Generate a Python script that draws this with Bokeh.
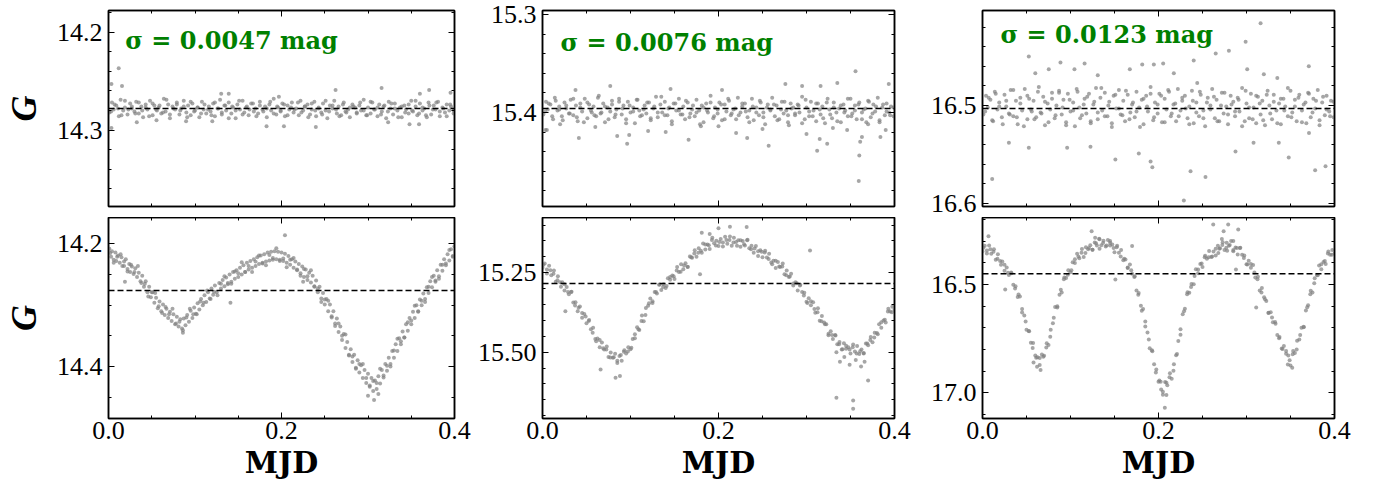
from bokeh.plotting import figure
from bokeh.models import (Range1d, SingleIntervalTicker, LinearAxis, Span, Label,
                          PrintfTickFormatter)
from bokeh.layouts import row, column
from bokeh.embed import file_html
from bokeh.resources import INLINE

# ---------------- data ----------------
# observation times of the top-row (constant) stars, MJD offset
t_top = [
    0.001, 0.004, 0.006, 0.009, 0.012, 0.014, 0.017, 0.019, 0.022, 0.025, 0.027, 0.030, 0.032, 0.035, 0.038, 0.040, 0.043, 0.045, 0.048, 0.051, 0.053, 0.056,
    0.058, 0.061, 0.064, 0.066, 0.069, 0.071, 0.074, 0.077, 0.079, 0.082, 0.084, 0.087, 0.090, 0.092, 0.095, 0.097, 0.100, 0.103, 0.105, 0.108, 0.110, 0.113,
    0.116, 0.118, 0.121, 0.123, 0.126, 0.129, 0.131, 0.134, 0.136, 0.139, 0.142, 0.144, 0.147, 0.149, 0.152, 0.155, 0.157, 0.160, 0.162, 0.165, 0.168, 0.170,
    0.173, 0.175, 0.178, 0.181, 0.183, 0.186, 0.188, 0.191, 0.194, 0.196, 0.199, 0.201, 0.204, 0.207, 0.209, 0.212, 0.214, 0.217, 0.220, 0.222, 0.225, 0.227,
    0.230, 0.233, 0.235, 0.238, 0.240, 0.243, 0.246, 0.248, 0.251, 0.253, 0.256, 0.259, 0.261, 0.264, 0.266, 0.269, 0.272, 0.274, 0.277, 0.279, 0.282, 0.285,
    0.287, 0.290, 0.292, 0.295, 0.298, 0.300, 0.303, 0.305, 0.308, 0.311, 0.313, 0.316, 0.318, 0.321, 0.324, 0.326, 0.329, 0.331, 0.334, 0.337, 0.339, 0.342,
    0.344, 0.347, 0.350, 0.352, 0.355, 0.357, 0.360, 0.363, 0.365, 0.368, 0.370, 0.373, 0.376, 0.378, 0.381, 0.383, 0.386, 0.389, 0.391, 0.394, 0.396, 0.399,
]
t_top2 = [
    0.003, 0.007, 0.011, 0.015, 0.019, 0.023, 0.027, 0.031, 0.035, 0.039,
    0.043, 0.047, 0.051, 0.055, 0.059, 0.063, 0.067, 0.071, 0.075, 0.079,
    0.083, 0.087, 0.091, 0.095, 0.099, 0.103, 0.107, 0.111, 0.115, 0.119,
    0.123, 0.127, 0.131, 0.135, 0.139, 0.143, 0.147, 0.151, 0.155, 0.159,
    0.163, 0.167, 0.171, 0.175, 0.179, 0.183, 0.187, 0.191, 0.195, 0.199,
    0.203, 0.207, 0.211, 0.215, 0.219, 0.223, 0.227, 0.231, 0.235, 0.239,
    0.243, 0.247, 0.251, 0.255, 0.259, 0.263, 0.267, 0.271, 0.275, 0.279,
    0.283, 0.287, 0.291, 0.295, 0.299, 0.303, 0.307, 0.311, 0.315, 0.319,
    0.323, 0.327, 0.331, 0.335, 0.339, 0.343, 0.347, 0.351, 0.355, 0.359,
    0.363, 0.367, 0.371, 0.375, 0.379, 0.383, 0.387, 0.391, 0.395, 0.399,
]

g_const1 = [
    14.282, 14.272, 14.279, 14.275, 14.286, 14.269, 14.280, 14.277, 14.284, 14.273, 14.278, 14.281, 14.271, 14.283, 14.276, 14.287, 14.274, 14.279, 14.270, 14.285, 14.275, 14.280,
    14.277, 14.283, 14.268, 14.281, 14.274, 14.288, 14.276, 14.279, 14.272, 14.284, 14.278, 14.270, 14.282, 14.275, 14.285, 14.273, 14.280, 14.277, 14.287, 14.271, 14.279, 14.283,
    14.276, 14.281, 14.273, 14.286, 14.278, 14.269, 14.284, 14.275, 14.280, 14.272, 14.283, 14.277, 14.288, 14.274, 14.279, 14.270, 14.282, 14.276, 14.285, 14.273, 14.281, 14.278,
    14.283, 14.271, 14.279, 14.276, 14.287, 14.274, 14.280, 14.268, 14.284, 14.277, 14.281, 14.273, 14.286, 14.275, 14.279, 14.272, 14.282, 14.278, 14.285, 14.270, 14.280, 14.276,
    14.274, 14.284, 14.279, 14.271, 14.286, 14.277, 14.282, 14.273, 14.280, 14.288, 14.275, 14.278, 14.270, 14.283, 14.276, 14.285, 14.272, 14.281, 14.279, 14.287, 14.274, 14.277,
    14.282, 14.275, 14.280, 14.269, 14.285, 14.277, 14.283, 14.272, 14.279, 14.286, 14.274, 14.281, 14.276, 14.288, 14.271, 14.278, 14.284, 14.273, 14.280, 14.277, 14.287, 14.275,
    14.279, 14.283, 14.270, 14.281, 14.276, 14.285, 14.273, 14.280, 14.278, 14.287, 14.272, 14.284, 14.275, 14.279, 14.271, 14.286, 14.277, 14.282, 14.274, 14.280, 14.276, 14.283,
]
g_const1b = [
    14.281, 14.274, 14.278, 14.285, 14.270, 14.279, 14.276, 14.283, 14.272, 14.280,
    14.277, 14.286, 14.273, 14.279, 14.275, 14.282, 14.269, 14.284, 14.278, 14.274,
    14.280, 14.276, 14.287, 14.271, 14.281, 14.277, 14.283, 14.274, 14.279, 14.285,
    14.272, 14.278, 14.282, 14.275, 14.288, 14.276, 14.280, 14.270, 14.284, 14.277,
    14.279, 14.273, 14.286, 14.275, 14.281, 14.278, 14.271, 14.283, 14.276, 14.280,
    14.274, 14.285, 14.277, 14.279, 14.272, 14.282, 14.276, 14.287, 14.273, 14.280,
    14.278, 14.284, 14.270, 14.281, 14.275, 14.279, 14.286, 14.274, 14.282, 14.277,
    14.276, 14.283, 14.272, 14.280, 14.285, 14.271, 14.279, 14.277, 14.284, 14.275,
    14.281, 14.273, 14.278, 14.287, 14.276, 14.282, 14.274, 14.280, 14.270, 14.283,
    14.277, 14.285, 14.275, 14.279, 14.272, 14.281, 14.278, 14.286, 14.274, 14.280,
]
t_const1_out = [0.0118, 0.0034, 0.0156, 0.0034, 0.0327, 0.1303, 0.139, 0.1827, 0.197, 0.2028, 0.2397,
                0.2625, 0.3157, 0.3233, 0.348, 0.359, 0.3707, 0.3954, 0.36, 0.0555, 0.0897, 0.120]
g_const1_out = [14.237, 14.253, 14.255, 14.298, 14.292, 14.263, 14.263, 14.296, 14.266, 14.296, 14.297,
                14.259, 14.257, 14.292, 14.294, 14.294, 14.259, 14.262, 14.263, 14.290, 14.291, 14.291]

g_const2 = [
    15.402, 15.389, 15.397, 15.392, 15.407, 15.385, 15.398, 15.394, 15.404, 15.390, 15.396, 15.401, 15.387, 15.403, 15.393, 15.409, 15.391, 15.399, 15.386, 15.406, 15.392, 15.400,
    15.394, 15.404, 15.383, 15.401, 15.391, 15.410, 15.395, 15.399, 15.388, 15.405, 15.397, 15.386, 15.402, 15.393, 15.407, 15.389, 15.400, 15.395, 15.411, 15.387, 15.398, 15.403,
    15.393, 15.401, 15.390, 15.408, 15.396, 15.384, 15.405, 15.392, 15.400, 15.389, 15.403, 15.395, 15.412, 15.391, 15.398, 15.386, 15.402, 15.394, 15.407, 15.390, 15.401, 15.397,
    15.404, 15.387, 15.398, 15.393, 15.410, 15.391, 15.400, 15.383, 15.406, 15.395, 15.401, 15.390, 15.408, 15.392, 15.399, 15.388, 15.403, 15.397, 15.407, 15.385, 15.400, 15.394,
    15.391, 15.405, 15.398, 15.386, 15.408, 15.395, 15.403, 15.390, 15.400, 15.412, 15.392, 15.397, 15.385, 15.404, 15.393, 15.407, 15.389, 15.401, 15.398, 15.410, 15.391, 15.395,
    15.403, 15.392, 15.400, 15.384, 15.407, 15.395, 15.404, 15.389, 15.398, 15.409, 15.391, 15.402, 15.394, 15.411, 15.386, 15.397, 15.406, 15.390, 15.400, 15.396, 15.410, 15.392,
    15.398, 15.404, 15.386, 15.401, 15.393, 15.407, 15.390, 15.400, 15.397, 15.410, 15.388, 15.405, 15.392, 15.399, 15.385, 15.408, 15.395, 15.403, 15.391, 15.400, 15.394, 15.404,
]
g_const2b = [
    15.399, 15.391, 15.404, 15.388, 15.397, 15.408, 15.393, 15.401, 15.386, 15.405,
    15.395, 15.410, 15.390, 15.398, 15.403, 15.385, 15.400, 15.394, 15.407, 15.392,
    15.402, 15.389, 15.396, 15.411, 15.393, 15.399, 15.387, 15.404, 15.397, 15.390,
    15.406, 15.394, 15.400, 15.384, 15.403, 15.396, 15.409, 15.391, 15.398, 15.402,
    15.388, 15.405, 15.393, 15.400, 15.412, 15.395, 15.398, 15.390, 15.404, 15.397,
    15.392, 15.407, 15.386, 15.401, 15.396, 15.403, 15.391, 15.399, 15.410, 15.394,
    15.400, 15.388, 15.405, 15.395, 15.398, 15.392, 15.408, 15.397, 15.389, 15.403,
    15.396, 15.401, 15.393, 15.411, 15.387, 15.399, 15.404, 15.391, 15.397, 15.406,
    15.390, 15.402, 15.395, 15.409, 15.393, 15.400, 15.386, 15.404, 15.398, 15.392,
    15.407, 15.396, 15.389, 15.401, 15.394, 15.410, 15.392, 15.399, 15.403, 15.395,
]
t_const2_out = [0.3557, 0.3594, 0.360, 0.361, 0.363, 0.3121, 0.315, 0.3235, 0.0962, 0.0849, 0.0985,
                0.0413, 0.166, 0.257, 0.2326, 0.3462, 0.384, 0.077, 0.0375, 0.1455, 0.204, 0.276,
                0.295, 0.335, 0.3935, 0.316, 0.0034, 0.005, 0.39,
                0.060, 0.120, 0.180, 0.220, 0.250, 0.280, 0.300, 0.330, 0.370, 0.140, 0.200, 0.020]
g_const2_out = [15.358, 15.470, 15.444, 15.430, 15.425, 15.439, 15.427, 15.432, 15.432, 15.424, 15.423,
                15.426, 15.428, 15.434, 15.426, 15.418, 15.425, 15.373, 15.377, 15.376, 15.377, 15.371,
                15.373, 15.370, 15.371, 15.373, 15.418, 15.418, 15.418,
                15.415, 15.419, 15.414, 15.421, 15.417, 15.413, 15.422, 15.416, 15.412, 15.420, 15.414, 15.412]

g_const3 = [
    16.509, 16.490, 16.502, 16.494, 16.516, 16.486, 16.504, 16.497, 16.512, 16.489, 16.501, 16.508, 16.484, 16.511, 16.495, 16.519, 16.492, 16.505, 16.483, 16.514, 16.493, 16.506,
    16.495, 16.512, 16.481, 16.507, 16.491, 16.520, 16.498, 16.504, 16.487, 16.513, 16.500, 16.485, 16.509, 16.494, 16.517, 16.488, 16.506, 16.497, 16.521, 16.486, 16.502, 16.510,
    16.493, 16.508, 16.488, 16.518, 16.499, 16.482, 16.514, 16.492, 16.505, 16.487, 16.511, 16.496, 16.522, 16.490, 16.503, 16.484, 16.509, 16.495, 16.516, 16.489, 16.507, 16.499,
    16.512, 16.486, 16.502, 16.494, 16.519, 16.490, 16.506, 16.481, 16.515, 16.497, 16.508, 16.488, 16.517, 16.493, 16.504, 16.486, 16.511, 16.499, 16.516, 16.483, 16.505, 16.495,
    16.490, 16.513, 16.501, 16.485, 16.518, 16.497, 16.511, 16.489, 16.505, 16.521, 16.492, 16.500, 16.483, 16.513, 16.494, 16.516, 16.487, 16.508, 16.501, 16.519, 16.490, 16.496,
    16.511, 16.492, 16.506, 16.482, 16.516, 16.498, 16.513, 16.488, 16.502, 16.518, 16.491, 16.509, 16.495, 16.520, 16.485, 16.500, 16.514, 16.489, 16.505, 16.498, 16.519, 16.493,
    16.501, 16.511, 16.485, 16.507, 16.494, 16.516, 16.489, 16.505, 16.499, 16.518, 16.487, 16.512, 16.493, 16.503, 16.484, 16.515, 16.497, 16.510, 16.490, 16.506, 16.495, 16.512,
]
g_const3b = [
    16.506, 16.492, 16.515, 16.488, 16.501, 16.519, 16.495, 16.509, 16.484, 16.512,
    16.498, 16.521, 16.490, 16.504, 16.514, 16.486, 16.508, 16.496, 16.517, 16.493,
    16.510, 16.487, 16.502, 16.520, 16.494, 16.505, 16.483, 16.513, 16.499, 16.491,
    16.516, 16.496, 16.507, 16.482, 16.511, 16.500, 16.518, 16.489, 16.503, 16.510,
    16.485, 16.514, 16.497, 16.506, 16.522, 16.493, 16.501, 16.488, 16.512, 16.499,
    16.490, 16.517, 16.484, 16.508, 16.498, 16.511, 16.492, 16.503, 16.519, 16.495,
    16.507, 16.486, 16.513, 16.497, 16.504, 16.491, 16.516, 16.500, 16.487, 16.509,
    16.499, 16.506, 16.494, 16.521, 16.485, 16.502, 16.514, 16.490, 16.498, 16.515,
    16.489, 16.508, 16.496, 16.518, 16.493, 16.505, 16.482, 16.512, 16.501, 16.492,
    16.517, 16.497, 16.488, 16.507, 16.495, 16.520, 16.491, 16.504, 16.511, 16.496,
]
t_const3_out = [0.316, 0.299, 0.280, 0.265, 0.0526, 0.011, 0.2288, 0.2534, 0.151, 0.193, 0.191,
                0.2364, 0.378, 0.3898, 0.348, 0.030, 0.0526, 0.0962, 0.1227, 0.1776, 0.2875, 0.3367,
                0.060, 0.0753, 0.0886, 0.1045, 0.116, 0.131, 0.1674, 0.1815, 0.1947, 0.2053, 0.2174,
                0.240, 0.244, 0.3008, 0.3197, 0.335, 0.3708, 0.308, 0.371]
g_const3_out = [16.416, 16.435, 16.444, 16.447, 16.450, 16.575, 16.597, 16.573, 16.555, 16.563, 16.557,
                16.567, 16.566, 16.562, 16.553, 16.538, 16.543, 16.543, 16.542, 16.549, 16.547, 16.538,
                16.467, 16.463, 16.456, 16.463, 16.457, 16.469, 16.463, 16.458, 16.458, 16.457, 16.467,
                16.454, 16.477, 16.463, 16.468, 16.472, 16.460, 16.538, 16.528]

# bottom-left variable star
t_var1 = [
    0.001, 0.003, 0.004, 0.006, 0.008, 0.009, 0.011, 0.013, 0.015, 0.016,
    0.018, 0.020, 0.022, 0.024, 0.025, 0.027, 0.029, 0.031, 0.033, 0.035,
    0.037, 0.039, 0.041, 0.043, 0.045, 0.047, 0.049, 0.051, 0.053, 0.055,
    0.057, 0.059, 0.061, 0.063, 0.065, 0.067, 0.069, 0.071, 0.073, 0.075,
    0.077, 0.079, 0.081, 0.083, 0.085, 0.087, 0.089, 0.091, 0.093, 0.095,
    0.097, 0.099, 0.101, 0.103, 0.105, 0.107, 0.109, 0.111, 0.113, 0.115,
    0.117, 0.119, 0.121, 0.123, 0.125, 0.128, 0.130, 0.132, 0.134, 0.136,
    0.138, 0.140, 0.142, 0.144, 0.146, 0.148, 0.150, 0.152, 0.154, 0.156,
    0.158, 0.160, 0.162, 0.164, 0.166, 0.168, 0.170, 0.172, 0.174, 0.176,
    0.178, 0.180, 0.182, 0.184, 0.186, 0.188, 0.190, 0.192, 0.194, 0.196,
    0.198, 0.200, 0.202, 0.204, 0.206, 0.208, 0.210, 0.212, 0.214, 0.216,
    0.218, 0.220, 0.222, 0.224, 0.226, 0.228, 0.230, 0.232, 0.234, 0.236,
    0.238, 0.240, 0.242, 0.244, 0.246, 0.248, 0.250, 0.252, 0.254, 0.256,
    0.258, 0.260, 0.262, 0.264, 0.266, 0.268, 0.270, 0.272, 0.274, 0.276,
    0.278, 0.280, 0.282, 0.284, 0.286, 0.288, 0.290, 0.292, 0.294, 0.296,
    0.298, 0.300, 0.302, 0.304, 0.306, 0.308, 0.310, 0.312, 0.314, 0.316,
    0.318, 0.320, 0.322, 0.324, 0.326, 0.328, 0.330, 0.332, 0.334, 0.336,
    0.338, 0.340, 0.342, 0.344, 0.346, 0.348, 0.350, 0.352, 0.354, 0.356,
    0.358, 0.360, 0.362, 0.364, 0.366, 0.368, 0.370, 0.372, 0.374, 0.376,
    0.378, 0.380, 0.382, 0.384, 0.386, 0.388, 0.390, 0.392, 0.394, 0.396,
    0.398, 0.400, 0.204, 0.019, 0.141, 0.307, 0.300, 0.086, 0.312, 0.225,
]
g_var1 = [
    14.208, 14.221, 14.212, 14.226, 14.214, 14.228, 14.219, 14.231, 14.222, 14.236,
    14.229, 14.225, 14.241, 14.233, 14.246, 14.237, 14.249, 14.240, 14.254, 14.247,
    14.261, 14.252, 14.270, 14.261, 14.279, 14.270, 14.287, 14.279, 14.296, 14.288,
    14.305, 14.294, 14.310, 14.299, 14.316, 14.306, 14.321, 14.311, 14.326, 14.315,
    14.331, 14.319, 14.335, 14.323, 14.338, 14.322, 14.333, 14.316, 14.327, 14.309,
    14.321, 14.304, 14.314, 14.297, 14.307, 14.290, 14.300, 14.284, 14.295, 14.279,
    14.289, 14.273, 14.283, 14.268, 14.279, 14.264, 14.273, 14.259, 14.269, 14.255,
    14.266, 14.250, 14.262, 14.246, 14.257, 14.243, 14.254, 14.239, 14.250, 14.235,
    14.246, 14.231, 14.242, 14.228, 14.239, 14.225, 14.236, 14.222, 14.233, 14.219,
    14.231, 14.217, 14.229, 14.214, 14.227, 14.213, 14.226, 14.212, 14.225, 14.213,
    14.226, 14.214, 14.228, 14.216, 14.231, 14.220, 14.234, 14.225, 14.239, 14.229,
    14.243, 14.233, 14.248, 14.237, 14.254, 14.242, 14.259, 14.247, 14.263, 14.252,
    14.269, 14.260, 14.279, 14.270, 14.289, 14.280, 14.299, 14.290, 14.310, 14.299,
    14.320, 14.310, 14.330, 14.322, 14.344, 14.335, 14.357, 14.347, 14.370, 14.360,
    14.382, 14.372, 14.393, 14.381, 14.402, 14.390, 14.410, 14.398, 14.419, 14.406,
    14.427, 14.412, 14.433, 14.419, 14.440, 14.423, 14.437, 14.416, 14.428, 14.406,
    14.418, 14.396, 14.407, 14.386, 14.396, 14.375, 14.386, 14.364, 14.375, 14.354,
    14.364, 14.343, 14.353, 14.331, 14.342, 14.321, 14.331, 14.311, 14.321, 14.300,
    14.311, 14.291, 14.300, 14.281, 14.290, 14.271, 14.280, 14.261, 14.271, 14.252,
    14.262, 14.243, 14.253, 14.234, 14.244, 14.225, 14.235, 14.217, 14.227, 14.209,
    14.220, 14.204, 14.186, 14.262, 14.296, 14.455, 14.448, 14.345, 14.445, 14.262,
]
t_var1b = [
    0.002, 0.006, 0.010, 0.014, 0.018, 0.022, 0.026, 0.030, 0.034, 0.038,
    0.042, 0.046, 0.050, 0.054, 0.058, 0.062, 0.066, 0.070, 0.074, 0.078,
    0.082, 0.086, 0.090, 0.094, 0.098, 0.102, 0.106, 0.110, 0.114, 0.118,
    0.122, 0.126, 0.130, 0.134, 0.138, 0.142, 0.146, 0.150, 0.154, 0.158,
    0.162, 0.166, 0.170, 0.174, 0.178, 0.182, 0.186, 0.190, 0.194, 0.198,
    0.202, 0.206, 0.210, 0.214, 0.218, 0.222, 0.226, 0.230, 0.234, 0.238,
    0.242, 0.246, 0.250, 0.254, 0.258, 0.262, 0.266, 0.270, 0.274, 0.278,
    0.282, 0.286, 0.290, 0.294, 0.298, 0.302, 0.306, 0.310, 0.314, 0.318,
    0.322, 0.326, 0.330, 0.334, 0.338, 0.342, 0.346, 0.350, 0.354, 0.358,
    0.362, 0.366, 0.370, 0.374, 0.378, 0.382, 0.386, 0.390, 0.394, 0.398,
]
g_var1b = [
    14.215, 14.231, 14.221, 14.217, 14.236, 14.245, 14.234, 14.246, 14.236, 14.264,
    14.265, 14.286, 14.279, 14.280, 14.302, 14.313, 14.303, 14.315, 14.306, 14.330,
    14.327, 14.341, 14.320, 14.306, 14.315, 14.315, 14.294, 14.296, 14.276, 14.290,
    14.278, 14.284, 14.265, 14.253, 14.264, 14.265, 14.245, 14.248, 14.230, 14.246,
    14.236, 14.246, 14.229, 14.219, 14.232, 14.235, 14.218, 14.223, 14.207, 14.228,
    14.224, 14.238, 14.226, 14.223, 14.242, 14.252, 14.241, 14.253, 14.243, 14.270,
    14.273, 14.295, 14.291, 14.293, 14.318, 14.334, 14.330, 14.350, 14.348, 14.381,
    14.384, 14.404, 14.396, 14.396, 14.419, 14.431, 14.424, 14.427, 14.404, 14.415,
    14.399, 14.400, 14.374, 14.355, 14.359, 14.353, 14.328, 14.325, 14.301, 14.310,
    14.293, 14.295, 14.270, 14.254, 14.260, 14.257, 14.234, 14.232, 14.210, 14.221,
]

# observation times of the middle and right variable stars
t_var23 = [
    0.0, 0.0025, 0.005, 0.0075, 0.01, 0.0125, 0.015, 0.0175, 0.02, 0.0225,
    0.025, 0.0275, 0.03, 0.0325, 0.035, 0.0375, 0.04, 0.0425, 0.045, 0.0475,
    0.05, 0.0525, 0.055, 0.0575, 0.06, 0.0625, 0.065, 0.0675, 0.07, 0.0725,
    0.075, 0.0775, 0.08, 0.0825, 0.085, 0.0875, 0.09, 0.0925, 0.095, 0.0975,
    0.1, 0.1025, 0.105, 0.1075, 0.11, 0.1125, 0.115, 0.1175, 0.12, 0.1225,
    0.125, 0.1275, 0.13, 0.1325, 0.135, 0.1375, 0.14, 0.1425, 0.145, 0.1475,
    0.15, 0.1525, 0.155, 0.1575, 0.16, 0.1625, 0.165, 0.1675, 0.17, 0.1725,
    0.175, 0.1775, 0.18, 0.1825, 0.185, 0.1875, 0.19, 0.1925, 0.195, 0.1975,
    0.2, 0.2025, 0.205, 0.2075, 0.21, 0.2125, 0.215, 0.2175, 0.22, 0.2225,
    0.225, 0.2275, 0.23, 0.2325, 0.235, 0.2375, 0.24, 0.2425, 0.245, 0.2475,
    0.25, 0.2525, 0.255, 0.2575, 0.26, 0.2625, 0.265, 0.2675, 0.27, 0.2725,
    0.275, 0.2775, 0.28, 0.2825, 0.285, 0.2875, 0.29, 0.2925, 0.295, 0.2975,
    0.3, 0.3025, 0.305, 0.3075, 0.31, 0.3125, 0.315, 0.3175, 0.32, 0.3225,
    0.325, 0.3275, 0.33, 0.3325, 0.335, 0.3375, 0.34, 0.3425, 0.345, 0.3475,
    0.35, 0.3525, 0.355, 0.3575, 0.36, 0.3625, 0.365, 0.3675, 0.37, 0.3725,
    0.375, 0.3775, 0.38, 0.3825, 0.385, 0.3875, 0.39, 0.3925, 0.395, 0.3975,
    0.4,
]
t_var23b = [
    0.001, 0.005, 0.009, 0.013, 0.017, 0.021, 0.025, 0.029, 0.033, 0.037,
    0.041, 0.045, 0.049, 0.053, 0.057, 0.061, 0.065, 0.069, 0.073, 0.077,
    0.081, 0.085, 0.089, 0.093, 0.097, 0.101, 0.105, 0.109, 0.113, 0.117,
    0.121, 0.125, 0.129, 0.133, 0.137, 0.141, 0.145, 0.149, 0.153, 0.157,
    0.161, 0.165, 0.169, 0.173, 0.177, 0.181, 0.185, 0.189, 0.193, 0.197,
    0.201, 0.205, 0.209, 0.213, 0.217, 0.221, 0.225, 0.229, 0.233, 0.237,
    0.241, 0.245, 0.249, 0.253, 0.257, 0.261, 0.265, 0.269, 0.273, 0.277,
    0.281, 0.285, 0.289, 0.293, 0.297, 0.301, 0.305, 0.309, 0.313, 0.317,
    0.321, 0.325, 0.329, 0.333, 0.337, 0.341, 0.345, 0.349, 0.353, 0.357,
    0.361, 0.365, 0.369, 0.373, 0.377, 0.381, 0.385, 0.389, 0.393, 0.397,
]
g_var2 = [
    15.234, 15.221, 15.240, 15.228, 15.258, 15.253, 15.278, 15.261, 15.280, 15.280,
    15.306, 15.295, 15.318, 15.311, 15.344, 15.343, 15.371, 15.356, 15.377, 15.380,
    15.409, 15.402, 15.428, 15.423, 15.459, 15.457, 15.485, 15.470, 15.492, 15.492,
    15.515, 15.501, 15.518, 15.505, 15.527, 15.512, 15.527, 15.499, 15.504, 15.485,
    15.491, 15.459, 15.456, 15.422, 15.430, 15.402, 15.403, 15.361, 15.354, 15.331,
    15.340, 15.311, 15.315, 15.288, 15.304, 15.286, 15.298, 15.267, 15.272, 15.259,
    15.270, 15.243, 15.248, 15.223, 15.239, 15.220, 15.231, 15.199, 15.203, 15.189,
    15.200, 15.173, 15.181, 15.158, 15.177, 15.161, 15.175, 15.147, 15.157, 15.149,
    15.166, 15.144, 15.155, 15.137, 15.159, 15.147, 15.165, 15.140, 15.153, 15.148,
    15.168, 15.150, 15.164, 15.148, 15.173, 15.165, 15.187, 15.166, 15.182, 15.179,
    15.201, 15.186, 15.202, 15.190, 15.218, 15.212, 15.235, 15.216, 15.232, 15.230,
    15.255, 15.243, 15.263, 15.253, 15.284, 15.280, 15.306, 15.290, 15.311, 15.313,
    15.341, 15.330, 15.352, 15.343, 15.376, 15.374, 15.401, 15.386, 15.407, 15.412,
    15.442, 15.434, 15.459, 15.446, 15.475, 15.468, 15.492, 15.472, 15.489, 15.485,
    15.504, 15.485, 15.498, 15.481, 15.506, 15.492, 15.504, 15.473, 15.478, 15.462,
    15.469, 15.439, 15.440, 15.412, 15.423, 15.400, 15.407, 15.372, 15.372, 15.357,
    15.367,
]
g_var2b = [
    15.225, 15.252, 15.242, 15.243, 15.274, 15.294, 15.286, 15.311, 15.310, 15.353,
    15.360, 15.392, 15.388, 15.399, 15.439, 15.466, 15.462, 15.488, 15.482, 15.517,
    15.516, 15.534, 15.509, 15.494, 15.498, 15.486, 15.444, 15.428, 15.385, 15.383,
    15.346, 15.345, 15.311, 15.287, 15.295, 15.292, 15.263, 15.261, 15.232, 15.247,
    15.227, 15.232, 15.201, 15.179, 15.187, 15.187, 15.161, 15.163, 15.140, 15.164,
    15.153, 15.167, 15.147, 15.136, 15.155, 15.165, 15.148, 15.160, 15.146, 15.176,
    15.174, 15.197, 15.184, 15.181, 15.207, 15.223, 15.212, 15.230, 15.221, 15.258,
    15.262, 15.290, 15.283, 15.288, 15.322, 15.345, 15.340, 15.364, 15.362, 15.403,
    15.412, 15.447, 15.446, 15.448, 15.475, 15.491, 15.480, 15.492, 15.476, 15.504,
    15.497, 15.503, 15.473, 15.452, 15.454, 15.444, 15.406, 15.398, 15.363, 15.374,
]
t_var2_out = [0.334, 0.353, 0.353, 0.370, 0.304, 0.083, 0.088, 0.066, 0.026, 0.179,
              0.338, 0.343, 0.349, 0.356, 0.362, 0.366, 0.334, 0.200, 0.213, 0.232, 0.181, 0.190]
g_var2_out = [15.644, 15.652, 15.678, 15.589, 15.180, 15.581, 15.575, 15.555, 15.371, 15.255,
              15.530, 15.515, 15.540, 15.525, 15.545, 15.530, 15.500, 15.110, 15.105, 15.106, 15.124, 15.128]

g_var3 = [
    16.348, 16.322, 16.343, 16.320, 16.358, 16.349, 16.386, 16.361, 16.392, 16.394,
    16.437, 16.422, 16.456, 16.445, 16.501, 16.508, 16.558, 16.556, 16.614, 16.644,
    16.709, 16.715, 16.769, 16.770, 16.828, 16.836, 16.872, 16.824, 16.829, 16.791,
    16.780, 16.709, 16.679, 16.604, 16.601, 16.548, 16.537, 16.476, 16.470, 16.435,
    16.444, 16.398, 16.401, 16.358, 16.379, 16.354, 16.373, 16.328, 16.338, 16.319,
    16.340, 16.306, 16.320, 16.289, 16.319, 16.298, 16.325, 16.295, 16.320, 16.316,
    16.351, 16.328, 16.354, 16.341, 16.388, 16.385, 16.424, 16.408, 16.451, 16.466,
    16.528, 16.539, 16.598, 16.614, 16.694, 16.722, 16.795, 16.804, 16.868, 16.893,
    16.949, 16.949, 16.996, 16.950, 16.965, 16.929, 16.935, 16.868, 16.827, 16.761,
    16.732, 16.638, 16.612, 16.545, 16.538, 16.498, 16.499, 16.430, 16.431, 16.406,
    16.419, 16.375, 16.381, 16.346, 16.373, 16.348, 16.367, 16.322, 16.333, 16.318,
    16.341, 16.307, 16.321, 16.300, 16.341, 16.330, 16.362, 16.332, 16.363, 16.366,
    16.407, 16.391, 16.423, 16.410, 16.468, 16.476, 16.528, 16.516, 16.559, 16.576,
    16.631, 16.629, 16.675, 16.674, 16.734, 16.743, 16.796, 16.784, 16.820, 16.828,
    16.874, 16.822, 16.817, 16.760, 16.754, 16.700, 16.698, 16.620, 16.596, 16.545,
    16.537, 16.471, 16.457, 16.413, 16.430, 16.397, 16.406, 16.357, 16.363, 16.341,
    16.358,
]
g_var3b = [
    16.331, 16.357, 16.338, 16.338, 16.381, 16.409, 16.409, 16.446, 16.448, 16.519,
    16.546, 16.630, 16.671, 16.716, 16.793, 16.839, 16.840, 16.834, 16.771, 16.742,
    16.654, 16.607, 16.524, 16.468, 16.455, 16.434, 16.384, 16.371, 16.336, 16.355,
    16.332, 16.340, 16.310, 16.291, 16.309, 16.320, 16.308, 16.332, 16.321, 16.371,
    16.381, 16.422, 16.434, 16.462, 16.548, 16.622, 16.671, 16.754, 16.808, 16.907,
    16.943, 17.009, 16.954, 16.910, 16.899, 16.821, 16.707, 16.624, 16.536, 16.512,
    16.461, 16.448, 16.403, 16.368, 16.375, 16.371, 16.335, 16.335, 16.305, 16.331,
    16.318, 16.347, 16.332, 16.331, 16.378, 16.408, 16.406, 16.445, 16.464, 16.537,
    16.568, 16.632, 16.653, 16.682, 16.748, 16.798, 16.807, 16.850, 16.807, 16.800,
    16.733, 16.695, 16.605, 16.529, 16.495, 16.458, 16.407, 16.392, 16.348, 16.363,
]
t_var3_out = [0.2622, 0.2792, 0.2906, 0.274, 0.2072, 0.311, 0.288, 0.124, 0.0068, 0.151,
              0.170, 0.0258, 0.128, 0.133, 0.145, 0.272, 0.278, 0.285, 0.268,
              0.062, 0.066, 0.058, 0.203, 0.209, 0.347, 0.352]
g_var3_out = [16.223, 16.223, 16.246, 16.254, 17.069, 16.607, 16.431, 16.254, 16.277, 16.477,
              16.323, 16.523, 16.285, 16.335, 16.300, 16.290, 16.345, 16.300, 16.355,
              16.880, 16.895, 16.860, 16.985, 17.010, 16.870, 16.885]

mean_mag = [14.278, 15.396, 16.503, 14.276, 15.284, 16.451]
sigma_text = ["σ = 0.0047 mag", "σ = 0.0076 mag", "σ = 0.0123 mag"]
y_limits = [(14.178, 14.378), (15.296, 15.496), (16.403, 16.603),
            (14.157, 14.485), (15.076, 15.709), (16.191, 17.119)]
y_major = [0.1, 0.1, 0.1, 0.2, 0.25, 0.5]
y_minor_n = [5, 5, 5, 4, 5, 5]
y_fmt = ["%.1f", "%.1f", "%.1f", "%.1f", "%.2f", "%.1f"]
x_label_text = "MJD"
y_label_text = "G"

# ---------------- styling ----------------
TICK_FONT = "Liberation Serif"
TICK_SIZE = "26px"
DOT_COLOR = "#808080"
SIGMA_COLOR = "#008000"

col_width = [471, 444, 463]
col_left = [103, 71, 67]
col_right = [17, 21, 44]
sigma_pos = [(0.0194, 14.209), (0.0205, 15.3287), (0.0205, 16.4277)]


def style_axis(ax, ticker, fmt, show_labels, standoff=6):
    ax.ticker = ticker
    ax.formatter = PrintfTickFormatter(format=fmt)
    ax.major_tick_in = 6
    ax.major_tick_out = 0
    ax.minor_tick_in = 3
    ax.minor_tick_out = 0
    ax.major_tick_line_color = "black"
    ax.minor_tick_line_color = "black"
    ax.major_tick_line_width = 1
    ax.minor_tick_line_width = 1
    ax.axis_line_color = "black"
    ax.axis_line_width = 1.5
    if show_labels:
        ax.major_label_text_font = TICK_FONT
        ax.major_label_text_font_size = TICK_SIZE
        ax.major_label_text_color = "black"
        ax.major_label_standoff = standoff
    else:
        ax.major_label_text_color = None
        ax.major_label_text_font_size = "1px"
        ax.major_label_standoff = 0


def make_panel(i, xs, ys):
    r, c = divmod(i, 3)
    lo, hi = y_limits[i]
    if r == 0:
        h, tb, bb = 217, 10, 11
    else:
        h, tb, bb = 272, 0, 71
    p = figure(width=col_width[c], height=h, output_backend="svg", toolbar_location=None,
               x_range=Range1d(0.0, 0.4), y_range=Range1d(hi, lo),
               min_border_left=col_left[c], min_border_right=col_right[c],
               min_border_top=tb, min_border_bottom=bb,
               background_fill_color="white", border_fill_color="white")
    p.outline_line_color = "black"
    p.outline_line_width = 1.5
    p.xgrid.visible = False
    p.ygrid.visible = False

    x_below = p.xaxis[0]
    y_left = p.yaxis[0]

    xt = SingleIntervalTicker(interval=0.2, num_minor_ticks=4)
    yt = SingleIntervalTicker(interval=y_major[i], num_minor_ticks=y_minor_n[i])

    style_axis(x_below, xt, "%.1f", r == 1, standoff=3)
    style_axis(y_left, yt, y_fmt[i], True)
    top_ax = LinearAxis()
    style_axis(top_ax, xt, "%.1f", False)
    right_ax = LinearAxis()
    style_axis(right_ax, yt, y_fmt[i], False)
    p.add_layout(top_ax, "above")
    p.add_layout(right_ax, "right")

    if r == 1:
        x_below.axis_label = x_label_text
        x_below.axis_label_text_font = "DejaVu Serif"
        x_below.axis_label_text_font_style = "bold"
        x_below.axis_label_text_font_size = "30px"
        x_below.axis_label_text_color = "black"
        x_below.axis_label_standoff = 3
    if c == 0:
        y_left.axis_label = y_label_text
        y_left.axis_label_text_font = "Liberation Serif"
        y_left.axis_label_text_font_style = "bold italic"
        y_left.axis_label_text_font_size = "36px"
        y_left.axis_label_text_color = "black"
        y_left.axis_label_standoff = 10

    p.scatter(xs, ys, size=4, fill_color=DOT_COLOR, fill_alpha=0.7, line_color=None)
    p.add_layout(Span(location=mean_mag[i], dimension="width", line_color="black",
                      line_dash="6 3", line_width=1.5))
    if r == 0:
        sx, sy = sigma_pos[c]
        p.add_layout(Label(x=sx, y=sy, text=sigma_text[c], text_font="DejaVu Serif",
                           text_font_style="bold", text_font_size="24px",
                           text_color=SIGMA_COLOR, text_baseline="middle", text_align="left"))
    return p


panels_x = [t_top + t_top2 + t_const1_out, t_top + t_top2 + t_const2_out, t_top + t_top2 + t_const3_out,
            t_var1 + t_var1b, t_var23 + t_var23b + t_var2_out, t_var23 + t_var23b + t_var3_out]
panels_y = [g_const1 + g_const1b + g_const1_out, g_const2 + g_const2b + g_const2_out,
            g_const3 + g_const3b + g_const3_out,
            g_var1 + g_var1b, g_var2 + g_var2b + g_var2_out, g_var3 + g_var3b + g_var3_out]
for k in range(6):
    assert len(panels_x[k]) == len(panels_y[k]), (k, len(panels_x[k]), len(panels_y[k]))

figs = [make_panel(k, panels_x[k], panels_y[k]) for k in range(6)]
layout = column(row(*figs[:3]), row(*figs[3:]))

open("out.html", "w").write(file_html(layout, INLINE))
